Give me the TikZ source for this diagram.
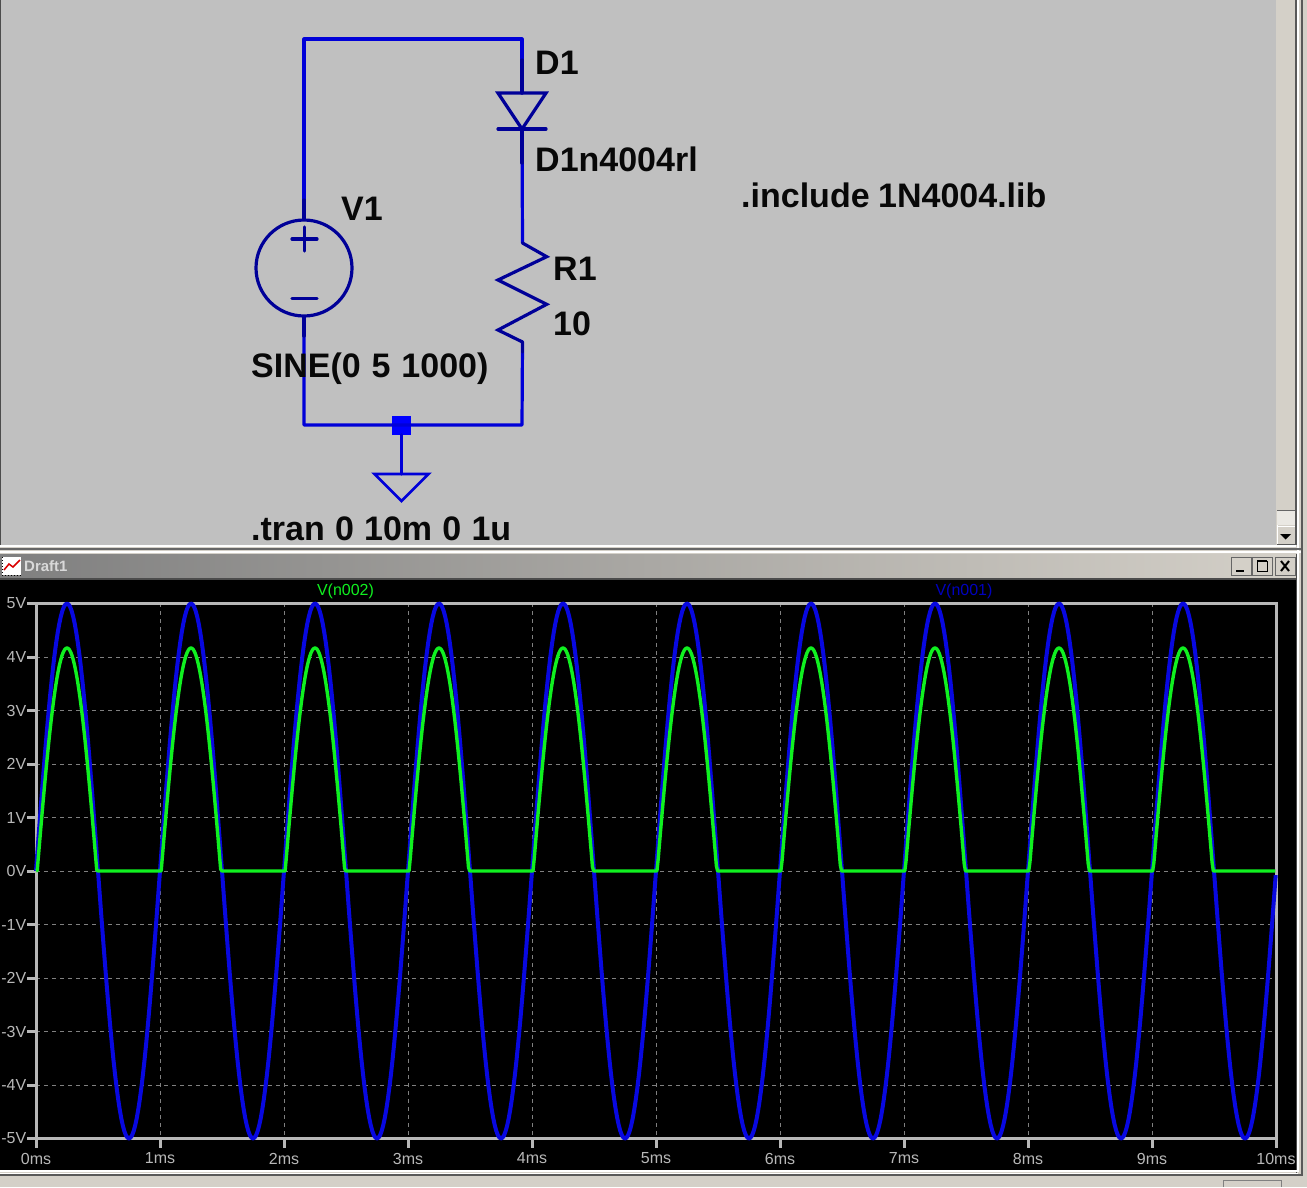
\documentclass[tikz,border=0pt]{standalone}
\usepackage{fontspec}
\setmainfont{Liberation Sans}
\definecolor{sheet}{HTML}{C0C0C0}
\definecolor{chrome}{HTML}{D4D0C8}
\definecolor{wirec}{HTML}{0000D8}
\definecolor{symc}{HTML}{000098}
\definecolor{txtc}{HTML}{080808}
\definecolor{frame}{HTML}{B8B8B8}
\definecolor{gridc}{HTML}{808080}
\definecolor{trblue}{HTML}{0808E0}
\definecolor{trgreen}{HTML}{10F020}
\tikzset{
  wire/.style={draw=wirec,line width=3.2pt,line cap=round,line join=round},
  symb/.style={draw=symc,line width=3.2pt,line cap=round,line join=miter},
  lab/.style={anchor=base west,inner sep=0pt,text=txtc,font=\fontsize{34}{34}\selectfont\bfseries},
  ylab/.style={anchor=east,inner sep=0pt,text=frame,font=\fontsize{16}{16}\selectfont},
  xlab/.style={anchor=center,inner sep=0pt,text=frame,font=\fontsize{16}{16}\selectfont},
  gridl/.style={draw=gridc,line width=0.8pt,dash pattern=on 4pt off 4pt},
  framel/.style={draw=frame,line width=3pt},
  btn/.style={fill=chrome,draw=black!60,line width=1pt},
}
\begin{document}
\begin{tikzpicture}[x=1pt,y=-1pt]
\useasboundingbox (0,0) rectangle (1307,1187);
% window chrome
\fill[chrome] (0,0) rectangle (1307,1187);
\fill[sheet] (1,0) rectangle (1276,545);
\draw[black!70,line width=1.5pt] (0.7,0) -- (0.7,547);
\draw[white,line width=1.5pt] (1277.5,0) -- (1277.5,545);
\draw[black!65,line width=2pt] (1295.5,0) -- (1295.5,545);
\draw[white,line width=2pt] (1298,0) -- (1298,552);
\draw[black!65,line width=2pt] (1301.5,0) -- (1301.5,548);
% scrollbar
\fill[chrome] (1277,0) rectangle (1295,510);
\draw[black!60,line width=1pt] (1277,510) -- (1295,510);
\fill[chrome!50!white] (1277,511) rectangle (1295,525);
\fill[chrome] (1277,526) rectangle (1295,544);
\draw[white,line width=1pt] (1277,544) -- (1277,526) -- (1295,526);
\draw[black!65,line width=1pt] (1277,544) -- (1295,544) -- (1295,526);
\fill[black] (1280,534) -- (1291,534) -- (1285.5,539.5) -- cycle;
\draw[white,line width=2pt] (0,546) -- (1296,546);
\draw[black!60,line width=2pt] (0,549) -- (1301,549);
\draw[white,line width=2pt] (0,552) -- (1301,552);
% title bar
\shade[left color=black!50,right color=chrome] (0,554) rectangle (1296,578);
\draw[black!70,line width=1.5pt] (0,579) -- (1296,579);
\fill[black] (0,580) rectangle (1296,1170);
\draw[black!70,line width=1pt] (1296,554) -- (1296,1174);
\draw[white,line width=2pt] (1298,552) -- (1298,1172);
\draw[black!65,line width=2pt] (1301.5,548) -- (1301.5,1176);
\fill[white] (2,557) rectangle (21,575);
\draw[black,line width=1pt,dotted] (2,575) -- (21,575);
\draw[black,line width=1pt,dotted] (2,557) -- (2,575);
\draw[red!85!black,line width=1.5pt] (4,570) -- (9,564) -- (13,567) -- (20,560);
\node[anchor=west,inner sep=0pt,text=black!15,font=\fontsize{15}{15}\selectfont\bfseries] (title) at (24,566.5) {Draft1};
% window buttons
\fill[btn] (1231,557) rectangle (1251,575);
\fill[btn] (1252,557) rectangle (1272,575);
\fill[btn] (1275,557) rectangle (1295,575);
\fill[black] (1236,570) rectangle (1244,572);
\draw[black,line width=1pt] (1257,561) rectangle (1267,571);
\draw[black,line width=2pt] (1257,561) -- (1267,561);
\draw[black,line width=2pt] (1281,561) -- (1289,571) (1289,561) -- (1281,571);
% bottom edge
\draw[white,line width=2pt] (0,1171) -- (1298,1171);
\draw[black!65,line width=2pt] (0,1175) -- (1302,1175);
\draw[white,line width=1pt] (0,1173) -- (1298,1173);
\draw[black!50,line width=1pt] (1223,1187) -- (1223,1180.5) -- (1281,1180.5) -- (1281,1187);
% plot grid
\foreach \v in {-4,...,4} \draw[gridl] (36,{871-53.5*\v}) -- (1276,{871-53.5*\v});
\foreach \m in {1,...,9} \draw[gridl] ({36+124*\m},603) -- ({36+124*\m},1138);
% axes
\draw[framel] (36,603.5) rectangle (1276,1138.5);
\foreach \v in {-5,...,5} {
  \draw[framel] (27,{871-53.5*\v}) -- (36,{871-53.5*\v});
  \node[ylab] (y\v) at (26.5,{871-53.5*\v}) {\v V};
}
\foreach \m in {0,...,10} {
  \draw[framel] ({36+124*\m},1138) -- ({36+124*\m},1148);
  \node[xlab] (x\m) at ({36+124*\m},1158.5) {\m ms};
}
\node[anchor=center,inner sep=0pt,text=trgreen,font=\fontsize{16}{16}\selectfont] (vtwo) at (345.5,591.5) {V(n002)};
\node[anchor=center,inner sep=0pt,text=blue!75!black,font=\fontsize{16}{16}\selectfont] (vone) at (964,591.5) {V(n001)};
% traces
\draw[trblue,line width=4pt,line join=round] plot[domain=0:10,samples=801] ({36+124*\x},{871-53.5*5*sin(360*\x)});
\draw[trgreen,line width=3.4pt,line join=round] plot[domain=0:10,samples=1001] ({36+124*\x},{871-53.5*max(0,(5*sin(360*\x)-0.3)*0.887)});
% circuit points
\coordinate (tl) at (304,39);
\coordinate (tr) at (522,39);
\coordinate (bl) at (304,425);
\coordinate (br) at (522,425);
\coordinate (dtop) at (522,93);
\coordinate (dbot) at (522,129);
\coordinate (rtop) at (522.5,243);
\coordinate (rbot) at (522.5,342);
\node[circle,draw=symc,line width=3.2pt,minimum size=96pt,inner sep=0pt] (v1) at (304,268) {};
\node[rectangle,fill=blue,minimum size=19pt,inner sep=0pt] (junc) at (401.5,425) {};
\coordinate (gtop) at (401.5,474);
% wires
\draw[wire] (v1.north) -- (tl) -- (tr) -- (dtop);
\draw[wire] (dbot) -- (rtop);
\draw[wire] (rbot) -- (br) -- (bl) -- (v1.south);
\draw[wire] (junc) -- (gtop);
% symbols
\draw[symb] (522,60) -- (dtop);
\draw[symb] (498,93) -- (546,93) -- (522,129) -- cycle;
\draw[symb] (498,129) -- (546,129);
\draw[symb] (dbot) -- (522,163);
\draw[symb] (rtop) -- (546.7,256.7) -- (498,280) -- (546.7,304.3) -- (498,330) -- (rbot);
\draw[symb] (rbot) -- (522.5,352);
\draw[symb] (304,200) -- (v1.north);
\draw[symb] (v1.south) -- (304,336);
\draw[symb] (292,239) -- (317,239) (304.5,227) -- (304.5,251);
\draw[symb] (292,298.5) -- (317,298.5);
\draw[wire,line width=2.8pt,line join=miter] (gtop) -- (374.5,474) -- (401.5,501) -- (428.5,474) -- cycle;
% labels
\node[lab] (d1) at (535,74) {D1};
\node[lab] (d1v) at (535,171) {D1n4004rl};
\node[lab] (v1l) at (341,220) {V1};
\node[lab] (r1) at (553,280) {R1};
\node[lab] (r1v) at (553,335) {10};
\node[lab] (sine) at (251,377) {\spaceskip=10.9pt SINE(0 5 1000)};
\node[lab] (incl) at (741,207) {\spaceskip=8.5pt .include 1N4004.lib};
\node[lab] (tran) at (251,540) {\spaceskip=10.2pt .tran 0 10m 0 1u};
\end{tikzpicture}
\end{document}
